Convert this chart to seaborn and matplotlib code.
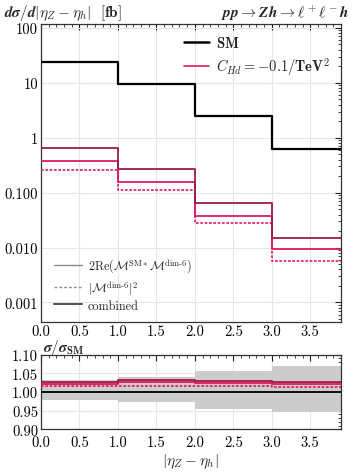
import numpy as np
import pandas as pd
import matplotlib
matplotlib.use("Agg")
import matplotlib.pyplot as plt
import seaborn as sns
from matplotlib.lines import Line2D
from matplotlib.ticker import MultipleLocator, FixedLocator, LogLocator, NullFormatter, FixedFormatter

# ---------------- data ----------------
bin_edges = [0.0, 1.0, 2.0, 3.0, 4.0]
sm_xsec = [24.0, 9.5, 2.5, 0.63]
interference = [0.38, 0.155, 0.038, 0.0094]
squared = [0.26, 0.11, 0.028, 0.0057]
combined = [0.64, 0.265, 0.066, 0.0151]

ratio_combined = [1.028, 1.031, 1.029, 1.027]
ratio_interference = [1.022, 1.026, 1.024, 1.022]
ratio_squared = [1.015, 1.017, 1.016, 1.014]
band_up = [1.032, 1.039, 1.057, 1.070]
band_down = [0.979, 0.974, 0.955, 0.946]

x_ticks = [0.0, 0.5, 1.0, 1.5, 2.0, 2.5, 3.0, 3.5]
x_ticklabels = ["0.0", "0.5", "1.0", "1.5", "2.0", "2.5", "3.0", "3.5"]
y_ticks = [0.001, 0.01, 0.1, 1, 10, 100]
y_ticklabels = ["0.001", "0.010", "0.100", "1", "10", "100"]
r_ticks = [0.90, 0.95, 1.00, 1.05, 1.10]
r_ticklabels = ["0.90", "0.95", "1.00", "1.05", "1.10"]

# ---------------- style ----------------
sns.set_theme(style="white")
plt.rcParams["font.family"] = ["cmr10", "DejaVu Serif"]
plt.rcParams["mathtext.fontset"] = "cm"
plt.rcParams["axes.unicode_minus"] = False
plt.rcParams["axes.formatter.use_mathtext"] = True

BLACK = "#000000"
DARK = "#9b1c45"
RED = "#e0195a"
GRAY = "#cccccc"

W, H = 353, 477
fig = plt.figure(figsize=(W / 100, H / 100), dpi=100)
ax1 = fig.add_axes([41 / W, 1 - 322.5 / H, 300 / W, (322.5 - 25) / H])
ax2 = fig.add_axes([41 / W, 1 - 430.3 / H, 300 / W, (430.3 - 355.7) / H])


def steps(vals):
    return pd.DataFrame({"x": bin_edges, "y": list(vals) + [vals[-1]]})


def step_line(ax, vals, color, lw, ls="-", z=3):
    sns.lineplot(data=steps(vals), x="x", y="y", ax=ax, color=color, lw=lw,
                 linestyle=ls, drawstyle="steps-post", estimator=None,
                 sort=False, legend=False, zorder=z)


# main panel
step_line(ax1, sm_xsec, BLACK, 1.6, z=4)
step_line(ax1, squared, RED, 1.2, ls=(0, (1.6, 1.0)))
step_line(ax1, interference, RED, 1.3)
step_line(ax1, combined, DARK, 1.3)
ax1.set_yscale("log")
ax1.set_xlim(0, 3.9)
ax1.set_ylim(0.00045, 118)

# ratio panel
band_df = steps(band_up)
band_df["lo"] = list(band_down) + [band_down[-1]]
ax2.fill_between(band_df["x"], band_df["lo"], band_df["y"], step="post",
                 color=GRAY, lw=0, zorder=1)
sns.lineplot(x=[0, 4], y=[1.0, 1.0], ax=ax2, color=BLACK, lw=1.3,
             estimator=None, legend=False, zorder=4)
step_line(ax2, ratio_squared, RED, 1.2, ls=(0, (1.6, 1.0)))
step_line(ax2, ratio_interference, RED, 1.3)
step_line(ax2, ratio_combined, DARK, 1.3)
ax2.set_xlim(0, 3.9)
ax2.set_ylim(0.90, 1.10)

for ax in (ax1, ax2):
    ax.set_xlabel("")
    ax.set_ylabel("")
    ax.xaxis.set_major_locator(FixedLocator(x_ticks))
    ax.xaxis.set_major_formatter(FixedFormatter(x_ticklabels))
    ax.xaxis.set_minor_locator(MultipleLocator(0.1))
    ax.grid(True, which="major", color="#e6e6e6", lw=0.8, zorder=0)
    ax.set_axisbelow(True)
    ax.tick_params(which="both", direction="in", top=True, right=True,
                   labelsize=10.5, colors="#222222", labelcolor="black")
    ax.tick_params(which="major", length=4, width=0.8, pad=2)
    ax.tick_params(which="minor", length=2, width=0.6)
    for s in ax.spines.values():
        s.set_color("#333333")
        s.set_linewidth(0.9)
ax2.tick_params(axis="x", which="major", pad=4)

ax1.yaxis.set_major_locator(FixedLocator(y_ticks))
ax1.yaxis.set_major_formatter(FixedFormatter(y_ticklabels))
ax1.yaxis.set_minor_locator(LogLocator(base=10, subs=np.arange(2, 10), numticks=20))
ax1.yaxis.set_minor_formatter(NullFormatter())
ax2.yaxis.set_major_locator(FixedLocator(r_ticks))
ax2.yaxis.set_major_formatter(FixedFormatter(r_ticklabels))
ax2.yaxis.set_minor_locator(MultipleLocator(0.01))

# legends
h1 = [Line2D([], [], color=BLACK, lw=1.8), Line2D([], [], color=RED, lw=1.2)]
l1 = [r"$\mathbf{SM}$", r"$\boldsymbol{C_{Hd}}\mathbf{=-0.1/TeV^2}$"]
leg1 = ax1.legend(h1, l1, loc="upper right", bbox_to_anchor=(1.0, 1.0),
                  frameon=False, fontsize=10.5, handlelength=1.7,
                  handletextpad=0.5, labelspacing=0.4, borderaxespad=0.35)
ax1.add_artist(leg1)

h2 = [Line2D([], [], color="#8a8a8a", lw=1.0),
      Line2D([], [], color="#8a8a8a", lw=1.0, ls=(0, (2, 1.5))),
      Line2D([], [], color="#555555", lw=1.5)]
l2 = [r"2Re($\mathcal{M}^{\rm SM*}\mathcal{M}^{\rm dim\text{-}6}$)",
      r"$|\mathcal{M}^{\rm dim\text{-}6}|^2$",
      "combined"]
ax1.legend(h2, l2, loc="lower left", bbox_to_anchor=(0.01, 0.0),
           frameon=False, fontsize=8.8, handlelength=2.3, handletextpad=0.5,
           labelspacing=0.25, borderaxespad=0.4)

# texts
fig.text(4 / W, 1 - 13 / H,
         r"$\boldsymbol{d\sigma/d|\eta_Z-\eta_h|}\ \ \mathbf{[fb]}$",
         fontsize=11, ha="left", va="center")
fig.text(349 / W, 1 - 13 / H,
         r"$\boldsymbol{pp\rightarrow Zh\rightarrow \ell^+\ell^- h}$",
         fontsize=11, ha="right", va="center")
fig.text(43 / W, 1 - 348 / H, r"$\boldsymbol{\sigma/\sigma}_{\mathbf{SM}}$",
         fontsize=11, ha="left", va="center")
fig.text(190 / W, 1 - 462 / H, r"$|\eta_Z-\eta_h|$", fontsize=11,
         ha="center", va="center")

fig.savefig("out.png", dpi=100)
